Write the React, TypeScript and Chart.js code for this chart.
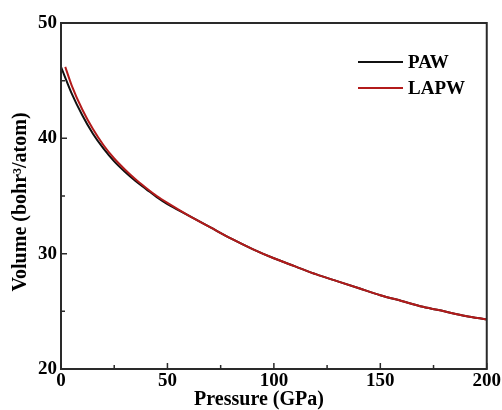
import React, { useEffect, useRef } from "react";
import { Chart, registerables } from "chart.js";

Chart.register(...registerables);

const pawPressure = [0, 5, 10, 15, 20, 25, 30, 35, 40, 45, 50, 60, 70, 80, 90, 100, 110, 120, 130, 140, 150, 160, 170, 180, 190, 200];
const pawVolume = [46.2, 43.9, 42.0, 40.4, 39.1, 38.0, 37.1, 36.3, 35.6, 34.9, 34.3, 33.3, 32.3, 31.3, 30.4, 29.6, 28.9, 28.2, 27.6, 27.0, 26.4, 25.9, 25.4, 25.0, 24.6, 24.3];
const lapwPressure = [2, 5, 10, 15, 20, 25, 30, 35, 40, 45, 50, 60, 70, 80, 90, 100, 110, 120, 130, 140, 150, 160, 170, 180, 190, 200];
const lapwVolume = [46.2, 44.6, 42.5, 40.8, 39.4, 38.25, 37.3, 36.45, 35.7, 35.0, 34.4, 33.3, 32.3, 31.3, 30.4, 29.6, 28.9, 28.2, 27.6, 27.0, 26.4, 25.9, 25.4, 25.0, 24.6, 24.3];

const seriesLabels = ["PAW", "LAPW"];
const seriesColors = ["#111111", "#b31b1b"];
const xMajorTicks = [0, 50, 100, 150, 200];
const xMinorTicks = [25, 75, 125, 175];
const yMajorTicks = [20, 30, 40, 50];
const yMinorTicks = [25, 35, 45];
const xTitle = "Pressure (GPa)";
const yTitle = "Volume (bohr³/atom)";

const FONT = "'Liberation Serif', 'Times New Roman', serif";

const decorPlugin = {
  id: "decor",
  afterDraw(chart: any) {
    const { ctx, chartArea } = chart;
    const xs = chart.scales.x;
    const ys = chart.scales.y;
    ctx.save();
    ctx.strokeStyle = "#2a2a2a";
    ctx.lineWidth = 2;
    ctx.strokeRect(chartArea.left, chartArea.top, chartArea.right - chartArea.left, chartArea.bottom - chartArea.top);
    ctx.lineWidth = 1.5;
    ctx.beginPath();
    xMajorTicks.forEach((v) => {
      const px = xs.getPixelForValue(v);
      ctx.moveTo(px, chartArea.bottom);
      ctx.lineTo(px, chartArea.bottom - 6);
    });
    xMinorTicks.forEach((v) => {
      const px = xs.getPixelForValue(v);
      ctx.moveTo(px, chartArea.bottom);
      ctx.lineTo(px, chartArea.bottom - 4);
    });
    yMajorTicks.forEach((v) => {
      const py = ys.getPixelForValue(v);
      ctx.moveTo(chartArea.left, py);
      ctx.lineTo(chartArea.left + 6, py);
    });
    yMinorTicks.forEach((v) => {
      const py = ys.getPixelForValue(v);
      ctx.moveTo(chartArea.left, py);
      ctx.lineTo(chartArea.left + 4, py);
    });
    ctx.stroke();

    // axis titles
    ctx.fillStyle = "#000";
    ctx.font = `bold 20px ${FONT}`;
    ctx.textAlign = "center";
    ctx.textBaseline = "middle";
    ctx.fillText(xTitle, 259, 400);
    ctx.save();
    ctx.translate(21, 202);
    ctx.rotate(-Math.PI / 2);
    ctx.fillText(yTitle, 0, 0);
    ctx.restore();

    // legend
    const legendX = 358;
    const legendYs = [62, 88];
    ctx.font = `bold 19px ${FONT}`;
    ctx.textAlign = "left";
    chart.data.datasets.forEach((ds: any, i: number) => {
      const y = legendYs[i];
      ctx.strokeStyle = ds.borderColor;
      ctx.lineWidth = 2;
      ctx.beginPath();
      ctx.moveTo(legendX, y);
      ctx.lineTo(legendX + 45, y);
      ctx.stroke();
      ctx.fillStyle = "#000";
      ctx.fillText(ds.label, legendX + 50, y + 1);
    });
    ctx.restore();
  },
};

export default function App() {
  const canvasRef = useRef<HTMLCanvasElement | null>(null);

  useEffect(() => {
    const canvas = canvasRef.current;
    if (!canvas) return;
    const chart = new Chart(canvas, {
      type: "line",
      data: {
        datasets: [
          {
            label: seriesLabels[0],
            data: pawPressure.map((p, i) => ({ x: p, y: pawVolume[i] })),
            borderColor: seriesColors[0],
            backgroundColor: seriesColors[0],
            borderWidth: 2,
            pointRadius: 0,
            cubicInterpolationMode: "monotone",
            order: 1,
          },
          {
            label: seriesLabels[1],
            data: lapwPressure.map((p, i) => ({ x: p, y: lapwVolume[i] })),
            borderColor: seriesColors[1],
            backgroundColor: seriesColors[1],
            borderWidth: 2,
            pointRadius: 0,
            cubicInterpolationMode: "monotone",
            order: 0,
          },
        ],
      },
      options: {
        responsive: false,
        animation: false,
        layout: { padding: { top: 23, right: 13, left: 0, bottom: 0 } },
        plugins: {
          legend: { display: false },
          tooltip: { enabled: false },
        },
        scales: {
          x: {
            type: "linear",
            min: 0,
            max: 200,
            afterBuildTicks: (scale: any) => {
              scale.ticks = xMajorTicks.map((v) => ({ value: v }));
            },
            afterFit: (scale: any) => {
              scale.height = 41;
            },
            ticks: {
              font: { family: FONT, size: 19, weight: "bold" },
              color: "#000",
              padding: 1,
              maxRotation: 0,
              autoSkip: false,
            },
            grid: { display: false, drawTicks: false },
            border: { display: false },
          },
          y: {
            type: "linear",
            min: 20,
            max: 50,
            afterBuildTicks: (scale: any) => {
              scale.ticks = yMajorTicks.map((v) => ({ value: v }));
            },
            afterFit: (scale: any) => {
              scale.width = 61;
            },
            ticks: {
              font: { family: FONT, size: 19, weight: "bold" },
              color: "#000",
              padding: 4,
              autoSkip: false,
            },
            grid: { display: false, drawTicks: false },
            border: { display: false },
          },
        },
      },
      plugins: [decorPlugin],
    } as any);
    return () => chart.destroy();
  }, []);

  return (
    <div style={{ position: "absolute", left: 0, top: 0, width: 502, height: 410, background: "#fff" }}>
      <canvas ref={canvasRef} width={502} height={410} style={{ display: "block" }} />
    </div>
  );
}
